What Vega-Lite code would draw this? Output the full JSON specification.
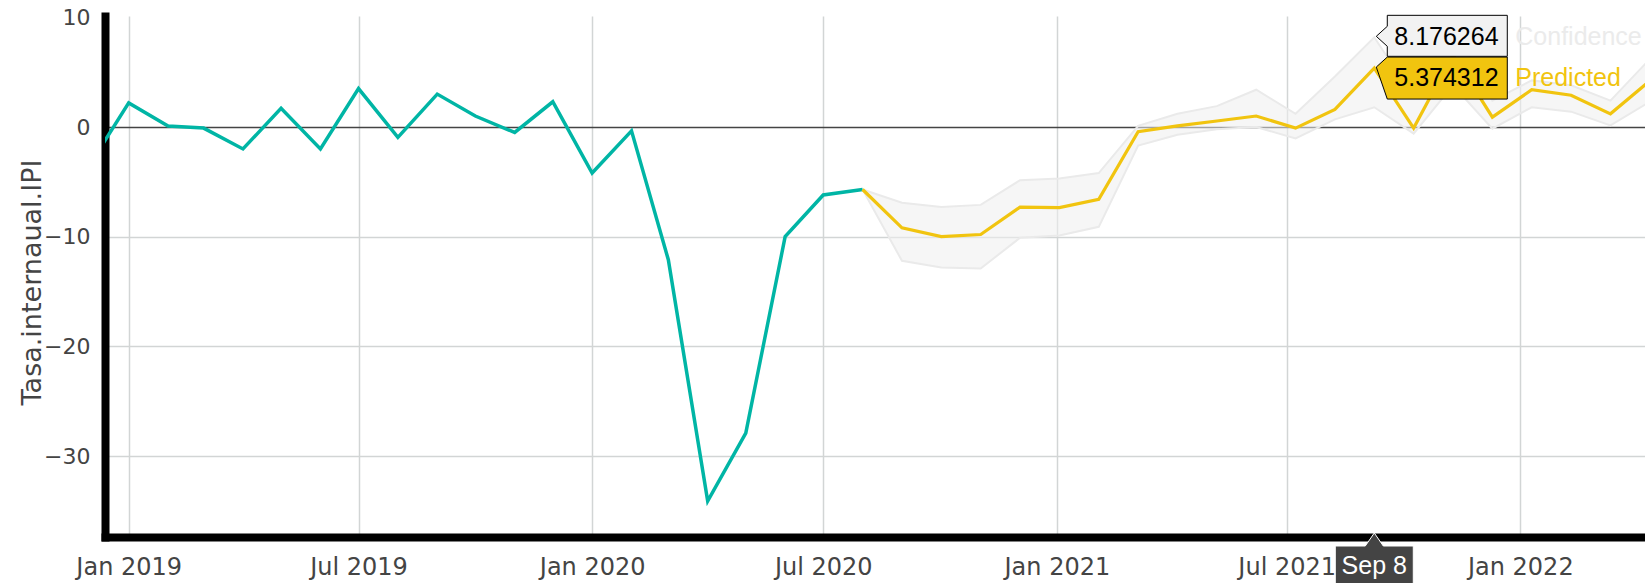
{
  "$schema": "https://vega.github.io/schema/vega-lite/v6.json",
  "width": 1540,
  "height": 521,
  "autosize": {"type": "none"},
  "padding": {"left": 105, "top": 16, "right": 0, "bottom": 46},
  "background": "white",
  "config": {"view": {"stroke": null}, "font": "DejaVu Sans"},
  "datasets": {
    "hist": [
      {"date": "2018-12-01", "value": -3.5},
      {"date": "2019-01-01", "value": 2.2},
      {"date": "2019-02-01", "value": 0.1},
      {"date": "2019-03-01", "value": -0.1},
      {"date": "2019-04-01", "value": -2.0},
      {"date": "2019-05-01", "value": 1.7},
      {"date": "2019-06-01", "value": -2.0},
      {"date": "2019-07-01", "value": 3.5},
      {"date": "2019-08-01", "value": -0.95},
      {"date": "2019-09-01", "value": 3.0},
      {"date": "2019-10-01", "value": 1.0},
      {"date": "2019-11-01", "value": -0.5},
      {"date": "2019-12-01", "value": 2.3},
      {"date": "2020-01-01", "value": -4.2},
      {"date": "2020-02-01", "value": -0.35},
      {"date": "2020-03-01", "value": -12.1},
      {"date": "2020-04-01", "value": -34.1},
      {"date": "2020-05-01", "value": -27.9},
      {"date": "2020-06-01", "value": -10.0},
      {"date": "2020-07-01", "value": -6.2},
      {"date": "2020-08-01", "value": -5.7}
    ],
    "fc": [
      {"date": "2020-08-01", "pred": -5.7, "lower": -5.7, "upper": -5.7},
      {"date": "2020-09-01", "pred": -9.2, "lower": -12.2, "upper": -6.9},
      {"date": "2020-10-02", "pred": -10.0, "lower": -12.8, "upper": -7.3},
      {"date": "2020-11-02", "pred": -9.8, "lower": -12.9, "upper": -7.1},
      {"date": "2020-12-03", "pred": -7.3, "lower": -10.1, "upper": -4.85},
      {"date": "2021-01-03", "pred": -7.35, "lower": -9.9, "upper": -4.7},
      {"date": "2021-02-03", "pred": -6.6, "lower": -9.1, "upper": -4.2},
      {"date": "2021-03-06", "pred": -0.43, "lower": -1.7, "upper": 0.1},
      {"date": "2021-04-06", "pred": 0.1, "lower": -0.7, "upper": 1.2},
      {"date": "2021-05-07", "pred": 0.55, "lower": -0.2, "upper": 1.9},
      {"date": "2021-06-07", "pred": 1.0, "lower": 0.0, "upper": 3.4},
      {"date": "2021-07-08", "pred": -0.1, "lower": -1.05, "upper": 1.2},
      {"date": "2021-08-08", "pred": 1.6, "lower": 0.7, "upper": 4.6},
      {"date": "2021-09-08", "pred": 5.374312, "lower": 1.8, "upper": 8.176264},
      {"date": "2021-10-09", "pred": -0.1, "lower": -0.6, "upper": 2.7},
      {"date": "2021-11-09", "pred": 6.6, "lower": 3.8, "upper": 9.4},
      {"date": "2021-12-10", "pred": 0.9, "lower": -0.15, "upper": 2.4},
      {"date": "2022-01-10", "pred": 3.4, "lower": 1.8, "upper": 4.25},
      {"date": "2022-02-10", "pred": 2.9, "lower": 1.4, "upper": 3.8},
      {"date": "2022-03-13", "pred": 1.2, "lower": 0.15, "upper": 2.4},
      {"date": "2022-04-13", "pred": 4.2, "lower": 2.3, "upper": 6.2}
    ],
    "hover": [
      {"date": "2021-09-08", "upper": 8.176264, "pred": 5.374312, "upperName": "Confidence", "predName": "Predicted", "xlabel": "Sep 8"}
    ]
  },
  "encoding": {
    "x": {
      "field": "date",
      "type": "temporal",
      "title": null,
      "scale": {
        "type": "utc",
        "domain": [
          {"year": 2018, "month": 12, "date": 13, "hours": 8, "utc": true},
          {"year": 2022, "month": 4, "date": 9, "hours": 5, "utc": true}
        ]
      },
      "axis": {
        "values": [
          {"year": 2019, "month": 1, "date": 1, "utc": true},
          {"year": 2019, "month": 7, "date": 1, "utc": true},
          {"year": 2020, "month": 1, "date": 1, "utc": true},
          {"year": 2020, "month": 7, "date": 1, "utc": true},
          {"year": 2021, "month": 1, "date": 1, "utc": true},
          {"year": 2021, "month": 7, "date": 1, "utc": true},
          {"year": 2022, "month": 1, "date": 1, "utc": true}
        ],
        "format": "%b %Y",
        "labelFont": "DejaVu Sans",
        "labelFontSize": 24,
        "labelColor": "#444444",
        "labelPadding": 37,
        "labelBaseline": "alphabetic",
        "labelFlush": false,
        "labelOverlap": false,
        "ticks": false,
        "tickSize": 0,
        "domainColor": "#000000",
        "domainWidth": 8,
        "domainCap": "square",
        "grid": true,
        "gridColor": "#d2d5d5",
        "gridWidth": 1.5
      }
    }
  },
  "layer": [
    {
      "data": {"name": "fc"},
      "mark": {"type": "area", "clip": true, "color": "#eeeeee", "opacity": 0.55},
      "encoding": {
        "y": {
          "field": "upper",
          "type": "quantitative",
          "title": "Tasa.internaual.IPI",
          "scale": {"domain": [-37.38, 10.12], "nice": false, "zero": false},
          "axis": {
            "values": [-30, -20, -10, 0, 10],
            "labelFont": "DejaVu Sans",
            "labelFontSize": 22,
            "labelColor": "#444444",
            "labelPadding": 15,
            "labelFlush": false,
            "ticks": false,
            "tickSize": 0,
            "domainColor": "#000000",
            "domainWidth": 8,
            "domainCap": "square",
            "grid": true,
            "gridColor": {"condition": {"test": "datum.value === 0", "value": "#444444"}, "value": "#d2d5d5"},
            "gridOpacity": {"condition": {"test": "datum.value === 10", "value": 0}, "value": 1},
            "gridWidth": 1.5,
            "titleFont": "DejaVu Sans",
            "titleFontSize": 27,
            "titleFontWeight": "normal",
            "titleColor": "#444444",
            "titleAngle": 270,
            "titleX": -65,
            "titleY": 266,
            "titleAlign": "center",
            "titleBaseline": "alphabetic"
          }
        },
        "y2": {"field": "lower"}
      }
    },
    {
      "data": {"name": "fc"},
      "mark": {"type": "line", "clip": true, "color": "#eaeaea", "strokeWidth": 2},
      "encoding": {
        "y": {"field": "lower", "type": "quantitative", "title": "Tasa.internaual.IPI"}
      }
    },
    {
      "data": {"name": "fc"},
      "mark": {"type": "line", "clip": true, "color": "#eaeaea", "strokeWidth": 2},
      "encoding": {
        "y": {"field": "upper", "type": "quantitative", "title": "Tasa.internaual.IPI"}
      }
    },
    {
      "data": {"name": "hist"},
      "mark": {"type": "line", "clip": true, "color": "#00B5A5", "strokeWidth": 3.5},
      "encoding": {
        "y": {"field": "value", "type": "quantitative", "title": "Tasa.internaual.IPI"}
      }
    },
    {
      "data": {"name": "fc"},
      "mark": {"type": "line", "clip": true, "color": "#F1C40F", "strokeWidth": 3.2},
      "encoding": {
        "y": {"field": "pred", "type": "quantitative", "title": "Tasa.internaual.IPI"}
      }
    },
    {
      "data": {"name": "hover"},
      "mark": {"type": "point", "clip": false, "shape": "M2,-1L13,-11L133,-11L133,31L13,31Z", "size": 4, "filled": true, "fill": "#F1C40F", "fillOpacity": 1, "stroke": "#000000", "strokeWidth": 1, "strokeOpacity": 1, "opacity": 1},
      "encoding": {
        "y": {"field": "pred", "type": "quantitative", "title": "Tasa.internaual.IPI"}
      }
    },
    {
      "data": {"name": "hover"},
      "mark": {"type": "point", "clip": false, "shape": "M2,-1L13,-11L13,-22L133,-22L133,19L13,19L13,9Z", "size": 4, "filled": true, "fill": "#f2f2f2", "fillOpacity": 1, "stroke": "#000000", "strokeWidth": 1, "strokeOpacity": 1, "opacity": 1},
      "encoding": {
        "y": {"field": "upper", "type": "quantitative", "title": "Tasa.internaual.IPI"}
      }
    },
    {
      "data": {"name": "hover"},
      "mark": {"type": "text", "clip": false, "font": "Liberation Sans", "fontSize": 25, "align": "left", "baseline": "middle", "dx": 20, "dy": 0, "color": "#000000"},
      "encoding": {
        "y": {"field": "upper", "type": "quantitative", "title": "Tasa.internaual.IPI"},
        "text": {"field": "upper", "type": "quantitative", "format": ".6f"}
      }
    },
    {
      "data": {"name": "hover"},
      "mark": {"type": "text", "clip": false, "font": "Liberation Sans", "fontSize": 25, "align": "left", "baseline": "middle", "dx": 141, "dy": 0, "color": "#ebebeb"},
      "encoding": {
        "y": {"field": "upper", "type": "quantitative", "title": "Tasa.internaual.IPI"},
        "text": {"field": "upperName", "type": "nominal"}
      }
    },
    {
      "data": {"name": "hover"},
      "mark": {"type": "text", "clip": false, "font": "Liberation Sans", "fontSize": 25, "align": "left", "baseline": "middle", "dx": 20, "dy": 10, "color": "#000000"},
      "encoding": {
        "y": {"field": "pred", "type": "quantitative", "title": "Tasa.internaual.IPI"},
        "text": {"field": "pred", "type": "quantitative", "format": ".6f"}
      }
    },
    {
      "data": {"name": "hover"},
      "mark": {"type": "text", "clip": false, "font": "Liberation Sans", "fontSize": 25, "align": "left", "baseline": "middle", "dx": 141, "dy": 10, "color": "#F1C40F"},
      "encoding": {
        "y": {"field": "pred", "type": "quantitative", "title": "Tasa.internaual.IPI"},
        "text": {"field": "predName", "type": "nominal"}
      }
    },
    {
      "data": {"name": "hover"},
      "mark": {"type": "point", "clip": false, "shape": "M0,-4L9,9L39,9L39,52L-39,52L-39,9L-9,9Z", "size": 4, "filled": true, "fill": "#444444", "fillOpacity": 1, "stroke": "#ffffff", "strokeWidth": 1, "strokeOpacity": 1, "opacity": 1},
      "encoding": {
        "y": {"value": "height"}
      }
    },
    {
      "data": {"name": "hover"},
      "mark": {"type": "text", "clip": false, "font": "Liberation Sans", "fontSize": 25, "align": "center", "baseline": "alphabetic", "dy": 37, "color": "#ffffff"},
      "encoding": {
        "y": {"value": "height"},
        "text": {"field": "xlabel", "type": "nominal"}
      }
    }
  ]
}
